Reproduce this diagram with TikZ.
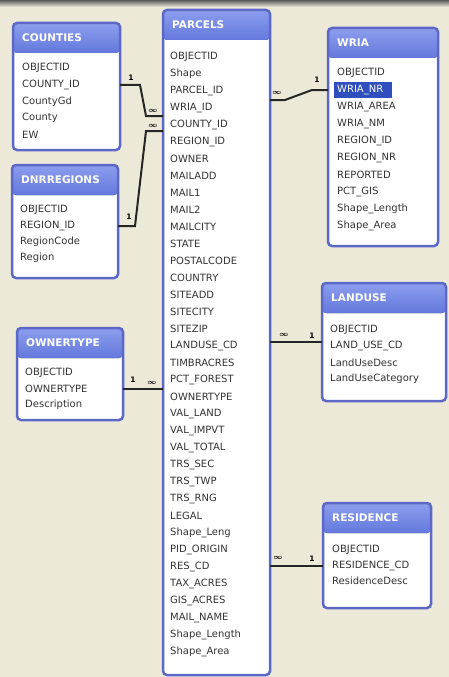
\documentclass[tikz,border=0pt]{standalone}
\usepackage{fontspec}
\setmainfont{DejaVu Sans}
\definecolor{bg}{HTML}{ECE9D8}
\definecolor{bord}{HTML}{5C68C8}
\definecolor{ttlhi}{HTML}{8C9EEE}
\definecolor{ttllo}{HTML}{6378DC}
\definecolor{hlblue}{HTML}{2F4FBF}
\definecolor{fldtxt}{HTML}{333333}
\tikzset{
  body/.style={fill=white, inner sep=0, outer sep=0, anchor=north west, rounded corners=4pt},
  frame/.style={draw=bord, line width=2.5pt, rounded corners=4pt},
  ttlbar/.style={top color=ttlhi, bottom color=ttllo, rounded corners=4pt},
  ttl/.style={anchor=west, inner sep=0, text=white, font=\fontsize{10.5}{12}\selectfont\bfseries},
  fld/.style={anchor=west, inner sep=0, text=fldtxt, font=\fontsize{10}{12}\selectfont},
  link/.style={line width=2pt, black!85},
  card/.style={inner sep=0, font=\fontsize{7.5}{8}\selectfont\bfseries\boldmath},
}
\begin{document}
\begin{tikzpicture}[x=1pt, y=-1pt]
  \fill[bg] (0,0) rectangle (449,677);
  \fill[top color=black!65, bottom color=bg] (0,0) rectangle (449,7);
  % tables
  \foreach \n/\x/\y/\w/\h/\t in {cnty/13/23/107/127/COUNTIES, rgn/12/165/106/113/DNRREGIONS,
      own/17/328/106/92/OWNERTYPE, prcl/163/10/107/665/PARCELS, wria/328/28/110/218/WRIA,
      lu/322/283/124/118/LANDUSE, res/323/503/108/105/RESIDENCE}{
    \node[body, minimum width=\w, minimum height=\h] (\n) at (\x,\y) {};
    \fill[ttlbar] (\n.north west) rectangle ([yshift=-30pt]\n.north east);
    \node[ttl] (\n-t) at ([xshift=9pt,yshift=-15pt]\n.north west) {\t};
    \draw[frame] (\n.north west) rectangle (\n.south east);
  }
  % fields
  \foreach \i/\t in {1/OBJECTID, 2/COUNTY\_ID, 3/CountyGd, 4/County, 5/EW}{
    \node[fld] (C\i) at (22, 51.5+16.7*\i) {\t};
  }
  \foreach \i/\t in {1/OBJECTID, 2/REGION\_ID, 3/RegionCode, 4/Region}{
    \node[fld] (R\i) at (20, 194+16*\i) {\t};
  }
  \foreach \i/\t in {1/OBJECTID, 2/OWNERTYPE, 3/Description}{
    \node[fld] (O\i) at (25, 357+16*\i) {\t};
  }
  \foreach \i/\t in {1/OBJECTID, 2/Shape, 3/PARCEL\_ID, 4/WRIA\_ID, 5/COUNTY\_ID, 6/REGION\_ID,
      7/OWNER, 8/MAILADD, 9/MAIL1, 10/MAIL2, 11/MAILCITY, 12/STATE, 13/POSTALCODE, 14/COUNTRY,
      15/SITEADD, 16/SITECITY, 17/SITEZIP, 18/LANDUSE\_CD, 19/TIMBRACRES, 20/PCT\_FOREST,
      21/OWNERTYPE, 22/VAL\_LAND, 23/VAL\_IMPVT, 24/VAL\_TOTAL, 25/TRS\_SEC, 26/TRS\_TWP,
      27/TRS\_RNG, 28/LEGAL, 29/Shape\_Leng, 30/PID\_ORIGIN, 31/RES\_CD, 32/TAX\_ACRES,
      33/GIS\_ACRES, 34/MAIL\_NAME, 35/Shape\_Length, 36/Shape\_Area}{
    \node[fld] (P\i) at (170, 40+17*\i) {\t};
  }
  \foreach \i/\t in {1/OBJECTID, 3/WRIA\_AREA, 4/WRIA\_NM, 5/REGION\_ID, 6/REGION\_NR,
      7/REPORTED, 8/PCT\_GIS, 9/Shape\_Length, 10/Shape\_Area}{
    \node[fld] (W\i) at (337, 56+17*\i) {\t};
  }
  \node[fld, fill=hlblue, text=white, inner xsep=3pt, minimum height=16pt, text width=52pt] (W2) at (334,90) {WRIA\_NR};
  \foreach \i/\t in {1/OBJECTID, 2/LAND\_USE\_CD, 3/LandUseDesc, 4/LandUseCategory}{
    \node[fld] (L\i) at (330, 314+16.2*\i) {\t};
  }
  \foreach \i/\t in {1/OBJECTID, 2/RESIDENCE\_CD, 3/ResidenceDesc}{
    \node[fld] (S\i) at (332, 534.5+15.5*\i) {\t};
  }
  % joins
  \coordinate (pinC) at (163,116);
  \coordinate (pinR) at (163,131);
  \coordinate (pinW) at (270,100);
  \coordinate (luin) at ([yshift=4pt]L2.west);
  \draw[link] (C2 -| cnty.east) -- ++(20,0) -- (146,116) -- (pinC);
  \draw[link] (R2 -| rgn.east) -- ++(17,0) -- (146,131) -- (pinR);
  \draw[link] (O2 -| own.east) -- (O2 -| prcl.west);
  \draw[link] (pinW) -- ++(15,0) -- (312,90) -- (W2 -| wria.west);
  \draw[link] (luin -| prcl.east) -- (luin -| lu.west);
  \draw[link] (S2 -| prcl.east) -- (S2 -| res.west);
  \foreach \n/\x/\y/\t in {k1/131/78/1, k2/129/217/1, k3/133/380/1, k4/317/80/1, k5/312/336/1, k6/312/559/1,
      m1/153/111/$\infty$, m2/153/126/$\infty$, m3/152/383/$\infty$, m4/277/93/$\infty$,
      m5/284/335/$\infty$, m6/278/558/$\infty$}{
    \node[card] (\n) at (\x,\y) {\t};
  }
\end{tikzpicture}
\end{document}
